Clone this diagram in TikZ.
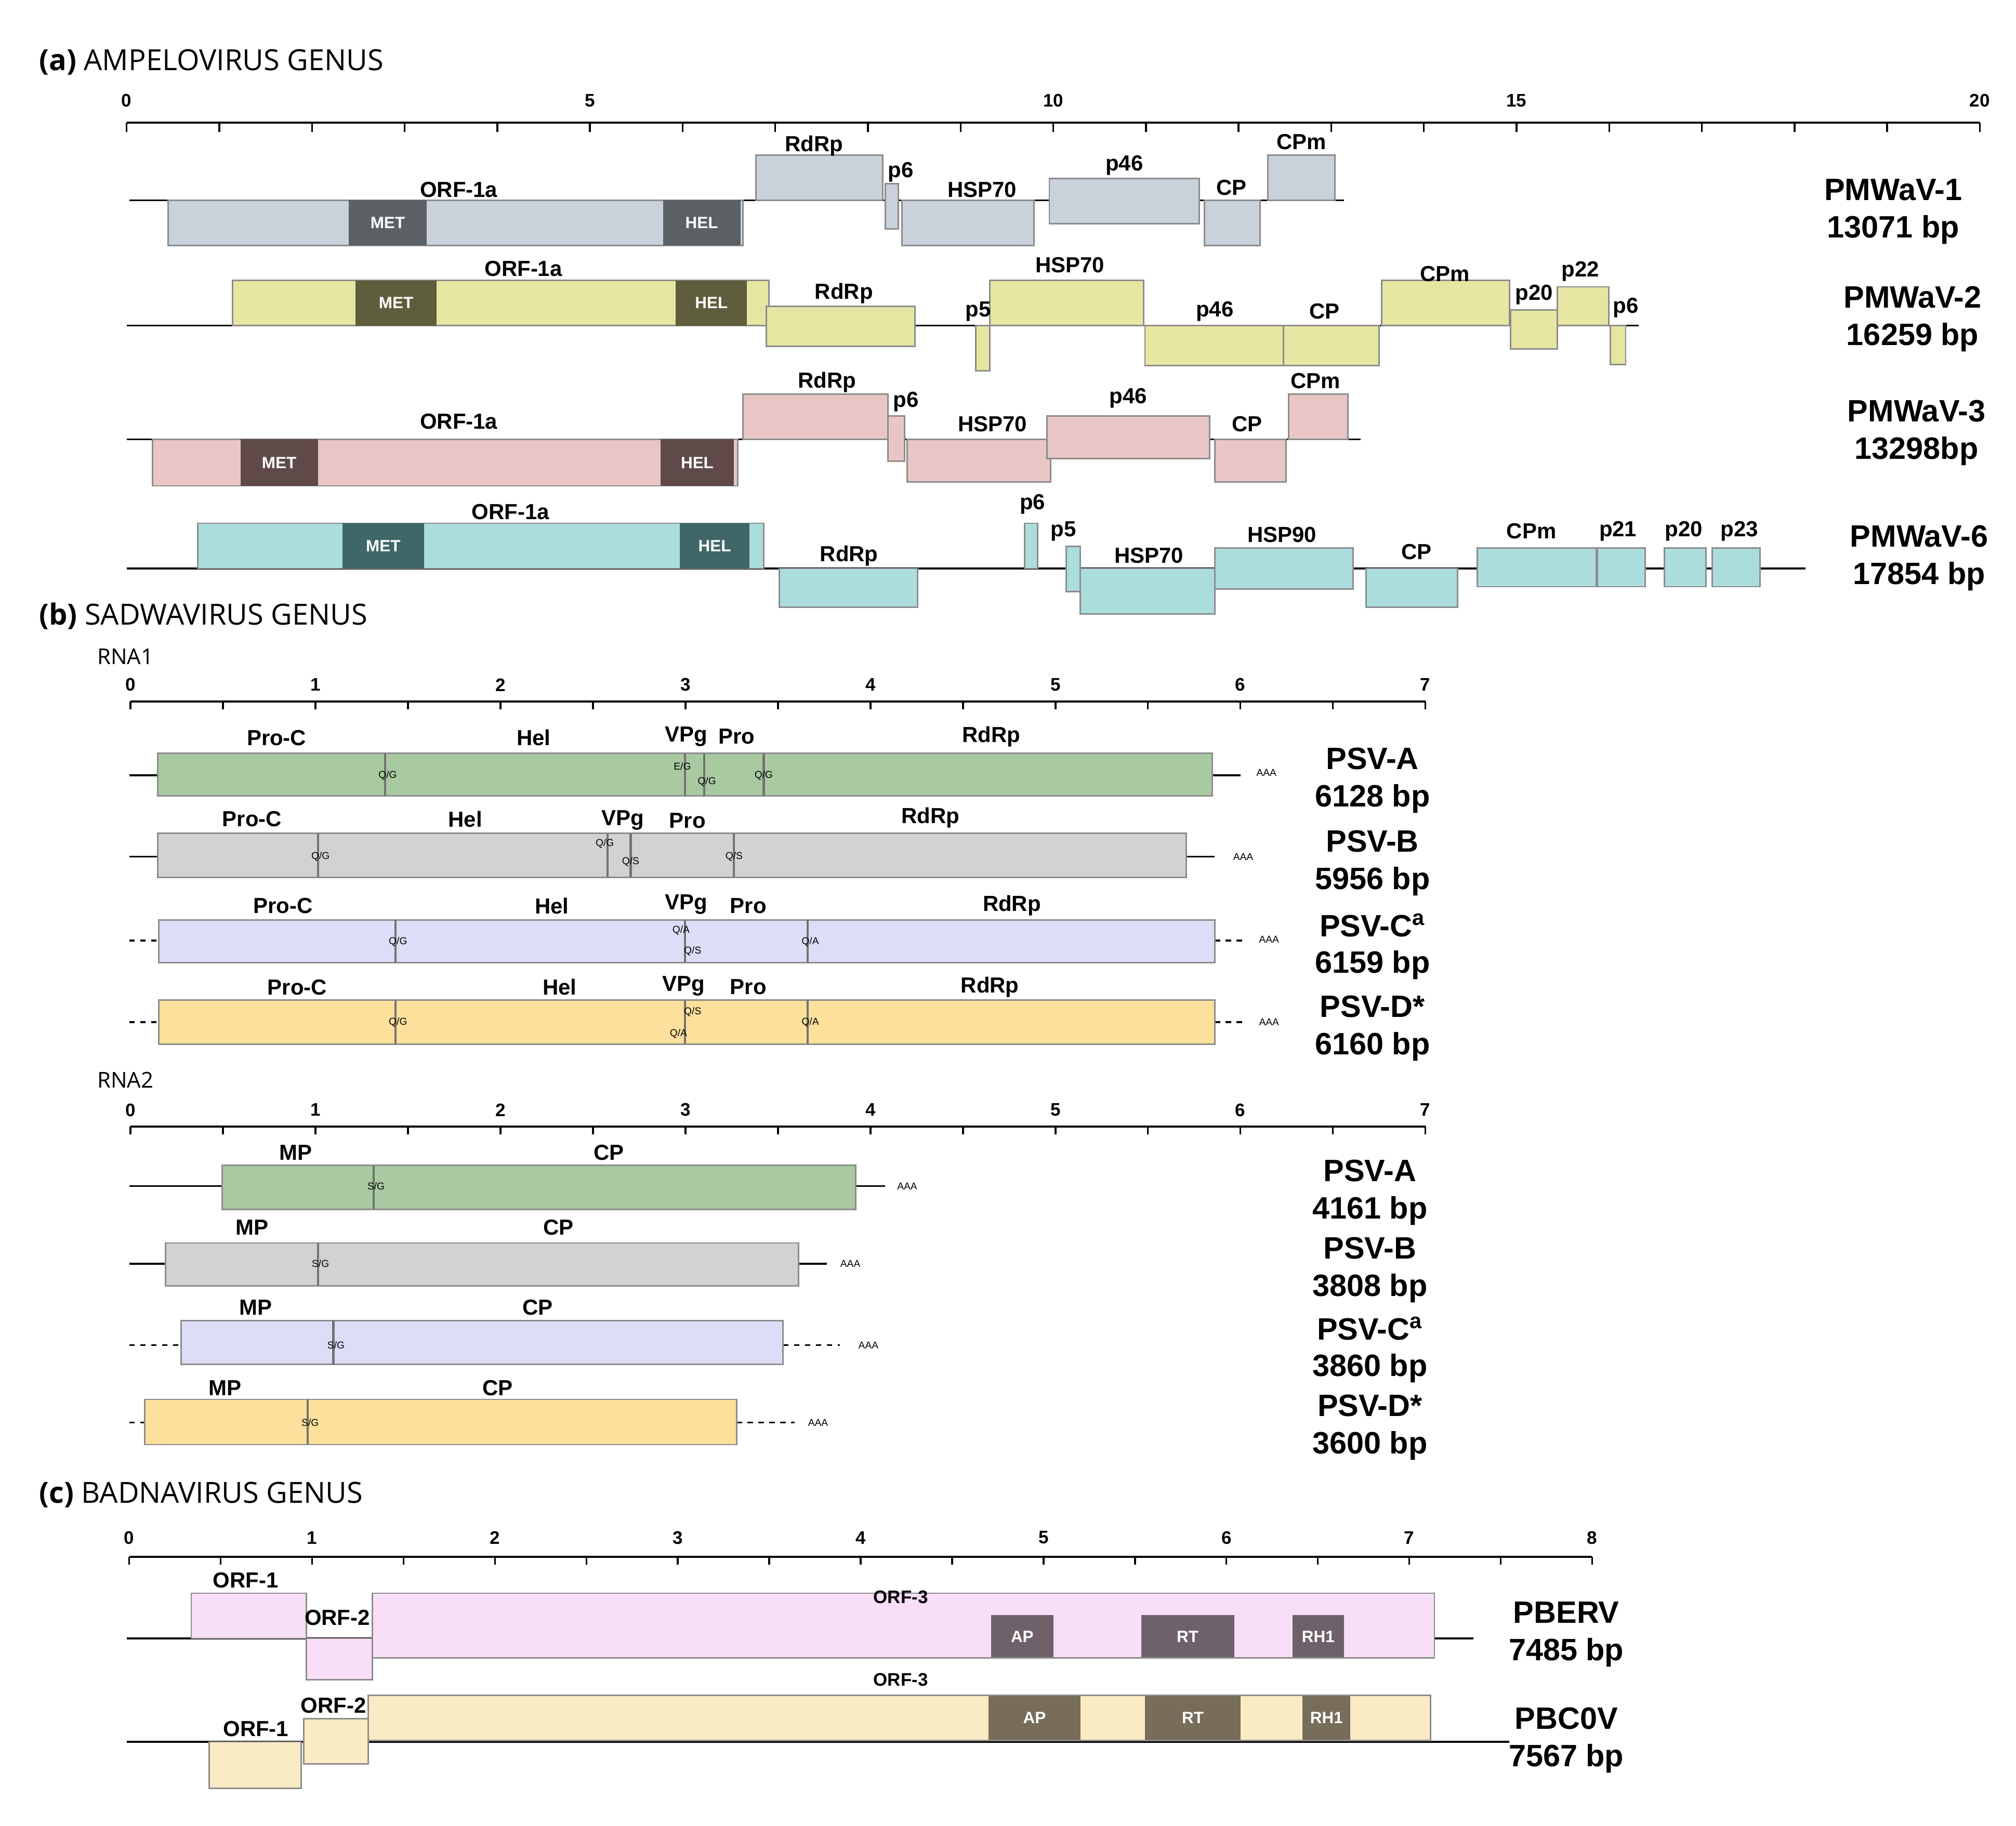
\documentclass[tikz,border=0pt]{standalone}
\usepackage{fontspec}
\setmainfont{Liberation Sans}
\newfontfamily\titfont{Open Sans}
\definecolor{ca}{HTML}{C9D1DB}\definecolor{da}{HTML}{5B6065}
\definecolor{cb}{HTML}{E6E6A2}\definecolor{db}{HTML}{5E5E3C}
\definecolor{cc}{HTML}{E9C6C6}\definecolor{dc}{HTML}{5F4949}
\definecolor{cd}{HTML}{ABDDDD}\definecolor{dd}{HTML}{3F6767}
\definecolor{sa}{HTML}{A9C9A1}\definecolor{sb}{HTML}{D2D2D2}
\definecolor{sc}{HTML}{DDDDF8}\definecolor{sd}{HTML}{FCE09B}
\definecolor{pa}{HTML}{F9DEF8}\definecolor{pd}{HTML}{6F6169}
\definecolor{pb}{HTML}{FBEBC5}\definecolor{pe}{HTML}{776D59}
\newcommand\bx[5]{\draw[bxs,fill=#5] (#1,#3) rectangle (#2,#4);}
\newcommand\dk[6]{\fill[#5] (#1,#3) rectangle (#2,#4); \node[dklab] at ({(#1+#2)/2},{(#3+#4)/2}) {#6};}
\newcommand\lb[3]{\node[lab] at (#1,#2) {#3};}
\newcommand\nm[4]{\node[nam] at (#1,#2) {#3}; \node[nam] at (#1,#2+31) {#4};}
\newcommand\dv[4]{\draw[black!55,line width=1.2pt] (#1,#2)--(#1,#3);}
\newcommand\sm[3]{\node[small] at (#1,#2) {#3};}
\begin{document}
\begin{tikzpicture}[x=0.25mm,y=-0.25mm,
 bxs/.style={draw=black!45,line width=0.8pt},
 dklab/.style={text=white,font=\bfseries\fontsize{9}{10}\selectfont},
 lab/.style={font=\bfseries\fontsize{12}{13}\selectfont,inner sep=0pt},
 nam/.style={font=\bfseries\fontsize{17}{19}\selectfont,inner sep=0pt},
 small/.style={font=\fontsize{5.5}{6}\selectfont,inner sep=0pt},
 ax/.style={font=\bfseries\fontsize{10}{11}\selectfont,inner sep=0pt},
 tit/.style={font=\titfont\fontsize{16}{18}\selectfont,anchor=west,inner sep=0pt},
 ln/.style={line width=1pt}]
\useasboundingbox (0,0) rectangle (1560,1413);
% ---------- (a)
\node[tit] at (30,48) {\textbf{(a)} AMPELOVIRUS GENUS};
\draw[line width=1.2pt] (98,95)--(1532,95);
\foreach \i in {0,...,20} \draw[line width=1pt] ({98+71.7*\i},95)--({98+71.7*\i},102);
\foreach \i in {0,5,10,15,20} \node[ax] at ({98+71.7*\i},78) {\i};
% PMWaV-1
\draw[ln] (100,155)--(1040,155);
\bx{130}{575}{155}{190}{ca}\dk{270}{330}{155}{190}{da}{MET}\dk{513}{573}{155}{190}{da}{HEL}
\bx{585}{683}{120}{155}{ca}\bx{685}{695}{142}{177}{ca}\bx{698}{800}{155}{190}{ca}
\bx{812}{928}{138}{173}{ca}\bx{932}{975}{155}{190}{ca}\bx{981}{1033}{120}{155}{ca}
\lb{355}{147}{ORF-1a}\lb{630}{113}{RdRp}\lb{697}{133}{p6}\lb{760}{147}{HSP70}\lb{870}{128}{p46}\lb{953}{145}{CP}\lb{1007}{110}{CPm}
\nm{1465}{147}{PMWaV-1}{13071 bp}
% PMWaV-2
\draw[ln] (98,252)--(1268,252);
\bx{180}{595}{217}{252}{cb}\dk{275}{338}{217}{252}{db}{MET}\dk{523}{578}{217}{252}{db}{HEL}
\bx{593}{708}{237}{268}{cb}\bx{755}{766}{252}{287}{cb}\bx{766}{885}{217}{252}{cb}
\bx{886}{993}{252}{283}{cb}\bx{993}{1067}{252}{283}{cb}\bx{1069}{1168}{217}{252}{cb}
\bx{1169}{1205}{240}{270}{cb}\bx{1205}{1245}{222}{252}{cb}\bx{1246}{1258}{252}{282}{cb}
\lb{405}{208}{ORF-1a}\lb{653}{227}{RdRp}\lb{757}{241}{p5}\lb{828}{205}{HSP70}\lb{940}{241}{p46}\lb{1025}{241}{CP}\lb{1118}{212}{CPm}\lb{1187}{228}{p20}\lb{1223}{210}{p22}\lb{1258}{238}{p6}
\nm{1480}{230}{PMWaV-2}{16259 bp}
% PMWaV-3
\draw[ln] (98,340)--(1053,340);
\bx{118}{571}{340}{376}{cc}\dk{186}{246}{340}{376}{dc}{MET}\dk{511}{568}{340}{376}{dc}{HEL}
\bx{575}{687}{305}{340}{cc}\bx{687}{700}{322}{357}{cc}\bx{702}{813}{340}{373}{cc}
\bx{810}{936}{322}{355}{cc}\bx{940}{995}{340}{373}{cc}\bx{997}{1043}{305}{340}{cc}
\lb{355}{326}{ORF-1a}\lb{640}{296}{RdRp}\lb{701}{311}{p6}\lb{768}{328}{HSP70}\lb{873}{308}{p46}\lb{965}{328}{CP}\lb{1018}{295}{CPm}
\nm{1483}{318}{PMWaV-3}{13298bp}
% PMWaV-6
\draw[ln] (98,440)--(1397,440);
\bx{153}{591}{405}{440}{cd}\dk{265}{328}{405}{440}{dd}{MET}\dk{526}{580}{405}{440}{dd}{HEL}
\bx{603}{710}{440}{470}{cd}\bx{793}{803}{405}{440}{cd}\bx{825}{836}{423}{458}{cd}
\bx{836}{940}{440}{475}{cd}\bx{940}{1047}{424}{456}{cd}\bx{1057}{1128}{440}{470}{cd}
\bx{1143}{1235}{424}{454}{cd}\bx{1236}{1273}{424}{454}{cd}\bx{1288}{1320}{424}{454}{cd}\bx{1325}{1362}{424}{454}{cd}
\lb{395}{396}{ORF-1a}\lb{657}{430}{RdRp}\lb{799}{390}{p6}\lb{823}{411}{p5}\lb{889}{430}{HSP70}\lb{992}{414}{HSP90}\lb{1096}{427}{CP}\lb{1185}{411}{CPm}\lb{1252}{411}{p21}\lb{1303}{411}{p20}\lb{1346}{411}{p23}
\nm{1485}{415}{PMWaV-6}{17854 bp}
% ---------- (b)
\node[tit] at (30,477) {\textbf{(b)} SADWAVIRUS GENUS};
\node[tit,font=\titfont\fontsize{12}{13}\selectfont] at (75,508) {RNA1};
\draw[line width=1.2pt] (101,543)--(1103,543);
\foreach \i in {0,...,14} \draw[line width=1pt] ({101+71.57*\i},543)--({101+71.57*\i},549);
\foreach \i in {0,...,7} \node[ax] at ({101+143.14*\i},530) {\i};
% PSV-A
\draw[ln] (100,600)--(122,600) (938,600)--(960,600);
\bx{122}{938}{583}{616}{sa}
\dv{298}{583}{616}{}\dv{530}{583}{616}{}\dv{545}{583}{616}{}\dv{591}{583}{616}{}
\sm{300}{600}{Q/G}\sm{528}{593}{E/G}\sm{547}{605}{Q/G}\sm{591}{600}{Q/G}\sm{980}{598}{AAA}
\lb{214}{571}{Pro-C}\lb{413}{571}{Hel}\lb{531}{570}{VPg}\lb{570}{570}{Pro}\lb{767}{570}{RdRp}
\nm{1062}{587}{PSV-A}{6128 bp}
% PSV-B
\draw[ln] (100,663)--(122,663) (918,663)--(940,663);
\bx{122}{918}{645}{679}{sb}
\dv{246}{645}{679}{}\dv{470}{645}{679}{}\dv{488}{645}{679}{}\dv{568}{645}{679}{}
\sm{248}{663}{Q/G}\sm{468}{653}{Q/G}\sm{488}{667}{Q/S}\sm{568}{663}{Q/S}\sm{962}{663}{AAA}
\lb{195}{634}{Pro-C}\lb{360}{634}{Hel}\lb{482}{635}{VPg}\lb{532}{635}{Pro}\lb{720}{633}{RdRp}
\nm{1062}{651}{PSV-B}{5956 bp}
% PSV-C
\draw[ln,dashed] (100,728)--(123,728) (940,728)--(965,728);
\bx{123}{940}{712}{745}{sc}
\dv{306}{712}{745}{}\dv{530}{712}{745}{}\dv{625}{712}{745}{}
\sm{308}{729}{Q/G}\sm{527}{720}{Q/A}\sm{536}{736}{Q/S}\sm{627}{729}{Q/A}\sm{982}{727}{AAA}
\lb{219}{701}{Pro-C}\lb{427}{701}{Hel}\lb{531}{700}{VPg}\lb{579}{701}{Pro}\lb{783}{701}{RdRp}
\nm{1062}{716}{PSV-C\textsuperscript{a}}{6159 bp}
% PSV-D
\draw[ln,dashed] (100,791)--(123,791) (940,791)--(965,791);
\bx{123}{940}{774}{808}{sd}
\dv{306}{774}{808}{}\dv{530}{774}{808}{}\dv{625}{774}{808}{}
\sm{308}{791}{Q/G}\sm{536}{783}{Q/S}\sm{525}{800}{Q/A}\sm{627}{791}{Q/A}\sm{982}{791}{AAA}
\lb{230}{764}{Pro-C}\lb{433}{764}{Hel}\lb{529}{763}{VPg}\lb{579}{764}{Pro}\lb{766}{764}{RdRp}
\nm{1062}{779}{PSV-D*}{6160 bp}
% RNA2
\node[tit,font=\titfont\fontsize{12}{13}\selectfont] at (75,836) {RNA2};
\draw[line width=1.2pt] (101,872)--(1103,872);
\foreach \i in {0,...,14} \draw[line width=1pt] ({101+71.57*\i},872)--({101+71.57*\i},878);
\foreach \i in {0,...,7} \node[ax] at ({101+143.14*\i},859) {\i};
\draw[ln] (100,918)--(172,918) (662,918)--(685,918);
\bx{172}{662}{902}{936}{sa}\dv{289}{902}{936}{}\sm{291}{918}{S/G}\sm{702}{918}{AAA}
\lb{229}{892}{MP}\lb{471}{892}{CP}\nm{1060}{906}{PSV-A}{4161 bp}
\draw[ln] (100,978)--(128,978) (618,978)--(640,978);
\bx{128}{618}{962}{995}{sb}\dv{246}{962}{995}{}\sm{248}{978}{S/G}\sm{658}{978}{AAA}
\lb{195}{950}{MP}\lb{432}{950}{CP}\nm{1060}{966}{PSV-B}{3808 bp}
\draw[ln,dashed] (100,1041)--(140,1041) (606,1041)--(650,1041);
\bx{140}{606}{1022}{1056}{sc}\dv{258}{1022}{1056}{}\sm{260}{1041}{S/G}\sm{672}{1041}{AAA}
\lb{198}{1012}{MP}\lb{416}{1012}{CP}\nm{1060}{1028}{PSV-C\textsuperscript{a}}{3860 bp}
\draw[ln,dashed] (100,1101)--(112,1101) (570,1101)--(615,1101);
\bx{112}{570}{1083}{1118}{sd}\dv{238}{1083}{1118}{}\sm{240}{1101}{S/G}\sm{633}{1101}{AAA}
\lb{174}{1074}{MP}\lb{385}{1074}{CP}\nm{1060}{1088}{PSV-D*}{3600 bp}
% ---------- (c)
\node[tit] at (30,1157) {\textbf{(c)} BADNAVIRUS GENUS};
\draw[line width=1.2pt] (100,1205)--(1232,1205);
\foreach \i in {0,...,16} \draw[line width=1pt] ({100+70.75*\i},1205)--({100+70.75*\i},1211);
\foreach \i in {0,...,8} \node[ax] at ({100+141.5*\i},1190) {\i};
% PBERV
\draw[ln] (98,1268)--(1140,1268);
\bx{148}{237}{1233}{1268}{pa}\bx{237}{288}{1268}{1300}{pa}\bx{288}{1110}{1233}{1283}{pa}
\dk{767}{815}{1250}{1283}{pd}{AP}\dk{883}{955}{1250}{1283}{pd}{RT}\dk{1000}{1040}{1250}{1283}{pd}{RH1}
\draw[bxs] (288,1233) rectangle (1110,1283);
\lb{190}{1223}{ORF-1}\lb{261}{1252}{ORF-2}\node[lab,font=\bfseries\fontsize{10}{11}\selectfont] at (697,1236) {ORF-3};
\nm{1212}{1248}{PBERV}{7485 bp}
% PBC0V
\draw[ln] (98,1348)--(1168,1348);
\bx{162}{233}{1348}{1384}{pb}\bx{235}{285}{1330}{1365}{pb}\bx{285}{1107}{1312}{1347}{pb}
\dk{765}{836}{1312}{1347}{pe}{AP}\dk{886}{960}{1312}{1347}{pe}{RT}\dk{1008}{1045}{1312}{1347}{pe}{RH1}
\draw[bxs] (285,1312) rectangle (1107,1347);
\lb{198}{1338}{ORF-1}\lb{258}{1320}{ORF-2}\node[lab,font=\bfseries\fontsize{10}{11}\selectfont] at (697,1300) {ORF-3};
\nm{1212}{1330}{PBC0V}{7567 bp}
\end{tikzpicture}
\end{document}
